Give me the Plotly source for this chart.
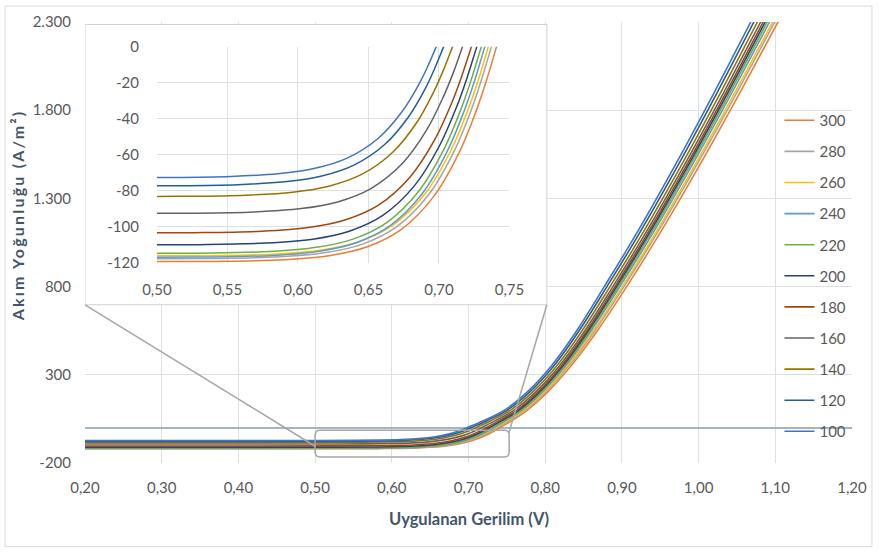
import plotly.graph_objects as go

# J-V curves (A/m^2 vs V) for each series, main chart + zoomed inset
series_labels = ["300", "280", "260", "240", "220", "200", "180", "160", "140", "120", "100"]

volt_100 = [0.20, 0.40, 0.5043, 0.5525, 0.5857, 0.6114, 0.6349, 0.6568, 0.6735, 0.6851, 0.6920, 0.6980,
            0.7194, 0.7470, 0.7760, 0.8080, 0.8410, 0.8770, 0.9189, 0.9709, 1.0203, 1.0680, 1.0914]
curr_100 = [-72.7, -72.7, -72.55, -71.97, -70.52, -67.61, -61.80, -50.89, -36.35, -21.81, -10.91, 0,
            40, 100, 200, 350, 550, 800, 1100, 1500, 1900, 2300, 2500]

volt_120 = [0.20, 0.40, 0.5091, 0.5573, 0.5905, 0.6162, 0.6397, 0.6617, 0.6786, 0.6903, 0.6972, 0.7033,
            0.7238, 0.7506, 0.7793, 0.8111, 0.8442, 0.8805, 0.9225, 0.9747, 1.0242, 1.0721, 1.0956]
curr_120 = [-77.3, -77.3, -77.15, -76.53, -74.98, -71.89, -65.71, -54.11, -38.65, -23.19, -11.60, 0,
            40, 100, 200, 350, 550, 800, 1100, 1500, 1900, 2300, 2500]

volt_140 = [0.20, 0.40, 0.5147, 0.5630, 0.5962, 0.6219, 0.6455, 0.6676, 0.6846, 0.6963, 0.7034, 0.7096,
            0.7292, 0.7550, 0.7832, 0.8149, 0.8481, 0.8845, 0.9267, 0.9790, 1.0287, 1.0767, 1.1003]
curr_140 = [-83.2, -83.2, -83.03, -82.37, -80.70, -77.38, -70.72, -58.24, -41.60, -24.96, -12.48, 0,
            40, 100, 200, 350, 550, 800, 1100, 1500, 1900, 2300, 2500]

volt_160 = [0.20, 0.40, 0.5208, 0.5691, 0.6023, 0.6281, 0.6517, 0.6740, 0.6912, 0.7031, 0.7104, 0.7167,
            0.7350, 0.7596, 0.7870, 0.8184, 0.8517, 0.8882, 0.9304, 0.9828, 1.0327, 1.0809, 1.1046]
curr_160 = [-92.6, -92.6, -92.41, -91.67, -89.82, -86.12, -78.71, -64.82, -46.30, -27.78, -13.89, 0,
            40, 100, 200, 350, 550, 800, 1100, 1500, 1900, 2300, 2500]

volt_180 = [0.20, 0.40, 0.5260, 0.5743, 0.6075, 0.6333, 0.6571, 0.6794, 0.6969, 0.7091, 0.7165, 0.7230,
            0.7400, 0.7634, 0.7901, 0.8211, 0.8544, 0.8910, 0.9332, 0.9858, 1.0358, 1.0842, 1.1079]
curr_180 = [-103.4, -103.4, -103.19, -102.37, -100.30, -96.16, -87.89, -72.38, -51.70, -31.02, -15.51, 0,
            40, 100, 200, 350, 550, 800, 1100, 1500, 1900, 2300, 2500]

volt_200 = [0.20, 0.40, 0.5290, 0.5773, 0.6106, 0.6364, 0.6602, 0.6827, 0.7003, 0.7127, 0.7202, 0.7268,
            0.7432, 0.7658, 0.7920, 0.8228, 0.8562, 0.8930, 0.9353, 0.9880, 1.0382, 1.0868, 1.1106]
curr_200 = [-110.1, -110.1, -109.88, -109.00, -106.80, -102.39, -93.59, -77.07, -55.05, -33.03, -16.52, 0,
            40, 100, 200, 350, 550, 800, 1100, 1500, 1900, 2300, 2500]

volt_220 = [0.20, 0.40, 0.5317, 0.5800, 0.6132, 0.6391, 0.6630, 0.6855, 0.7032, 0.7157, 0.7233, 0.7300,
            0.7460, 0.7679, 0.7938, 0.8246, 0.8581, 0.8952, 0.9376, 0.9904, 1.0408, 1.0895, 1.1135]
curr_220 = [-114.8, -114.8, -114.57, -113.65, -111.36, -106.76, -97.58, -80.36, -57.40, -34.44, -17.22, 0,
            40, 100, 200, 350, 550, 800, 1100, 1500, 1900, 2300, 2500]

volt_240 = [0.20, 0.40, 0.5339, 0.5822, 0.6154, 0.6413, 0.6652, 0.6878, 0.7056, 0.7181, 0.7258, 0.7325,
            0.7483, 0.7698, 0.7957, 0.8264, 0.8600, 0.8974, 0.9400, 0.9930, 1.0435, 1.0925, 1.1165]
curr_240 = [-117.0, -117.0, -116.77, -115.83, -113.49, -108.81, -99.45, -81.90, -58.50, -35.10, -17.55, 0,
            40, 100, 200, 350, 550, 800, 1100, 1500, 1900, 2300, 2500]

volt_260 = [0.20, 0.40, 0.5364, 0.5847, 0.6180, 0.6439, 0.6677, 0.6903, 0.7081, 0.7206, 0.7283, 0.7350,
            0.7509, 0.7721, 0.7980, 0.8288, 0.8628, 0.9006, 0.9433, 0.9965, 1.0472, 1.0964, 1.1205]
curr_260 = [-116.2, -116.2, -115.97, -115.04, -112.71, -108.07, -98.77, -81.34, -58.10, -34.86, -17.43, 0,
            40, 100, 200, 350, 550, 800, 1100, 1500, 1900, 2300, 2500]

volt_280 = [0.20, 0.40, 0.5384, 0.5867, 0.6199, 0.6458, 0.6697, 0.6924, 0.7102, 0.7228, 0.7304, 0.7372,
            0.7530, 0.7737, 0.7996, 0.8305, 0.8648, 0.9027, 0.9455, 0.9989, 1.0499, 1.0992, 1.1234]
curr_280 = [-117.8, -117.8, -117.56, -116.62, -114.27, -109.55, -100.13, -82.46, -58.90, -35.34, -17.67, 0,
            40, 100, 200, 350, 550, 800, 1100, 1500, 1900, 2300, 2500]

volt_300 = [0.20, 0.40, 0.5418, 0.5901, 0.6233, 0.6492, 0.6731, 0.6958, 0.7137, 0.7263, 0.7340, 0.7408,
            0.7565, 0.7768, 0.8026, 0.8335, 0.8680, 0.9062, 0.9492, 1.0028, 1.0539, 1.1035, 1.1278]
curr_300 = [-119.4, -119.4, -119.16, -118.21, -115.82, -111.04, -101.49, -83.58, -59.70, -35.82, -17.91, 0,
            40, 100, 200, 350, 550, 800, 1100, 1500, 1900, 2300, 2500]

# axis ticks
main_x_ticks = [0.20, 0.30, 0.40, 0.50, 0.60, 0.70, 0.80, 0.90, 1.00, 1.10, 1.20]
main_y_ticks = [-200, 300, 800, 1300, 1800, 2300]
inset_x_ticks = [0.50, 0.55, 0.60, 0.65, 0.70, 0.75]
inset_y_ticks = [-120, -100, -80, -60, -40, -20, 0]

series_data = {
    "300": (volt_300, curr_300), "280": (volt_280, curr_280), "260": (volt_260, curr_260),
    "240": (volt_240, curr_240), "220": (volt_220, curr_220), "200": (volt_200, curr_200),
    "180": (volt_180, curr_180), "160": (volt_160, curr_160), "140": (volt_140, curr_140),
    "120": (volt_120, curr_120), "100": (volt_100, curr_100),
}

colors = {
    "300": "#ED7D31", "280": "#A5A5A5", "260": "#FFC000", "240": "#5B9BD5",
    "220": "#70AD47", "200": "#264478", "180": "#9E480E", "160": "#636363",
    "140": "#997300", "120": "#255E91", "100": "#4472C4",
}

FONT = "Lato"
TICK_COLOR = "#595959"
TITLE_COLOR = "#44546A"
GRID = "#D9E0E8"
TICK_SIZE = 15


def fmt_thousands(v):
    return f"{v:,}".replace(",", ".")


fig = go.Figure()

for lab in series_labels:
    v, j = series_data[lab]
    fig.add_trace(go.Scatter(
        x=v, y=j, mode="lines", name=lab, legendgroup=lab,
        line=dict(color=colors[lab], width=1.6, shape="spline", smoothing=1.0),
        xaxis="x", yaxis="y", hoverinfo="skip"))

for lab in series_labels:
    v, j = series_data[lab]
    fig.add_trace(go.Scatter(
        x=v, y=j, mode="lines", name=lab, legendgroup=lab, showlegend=False,
        line=dict(color=colors[lab], width=1.5, shape="spline", smoothing=1.0),
        xaxis="x2", yaxis="y2", hoverinfo="skip"))

# inset frame in main-axis units
inset_frame = dict(x0=0.2, x1=0.8022, y0=697, y1=2286)
# highlighted region on the main axes
zoom_box = dict(x0=0.50, x1=0.753, y0=-166, y1=-14)
rx, ry = 0.0065, 28
zb = zoom_box
zoom_path = (f"M {zb['x0']+rx},{zb['y0']} L {zb['x1']-rx},{zb['y0']} "
             f"Q {zb['x1']},{zb['y0']} {zb['x1']},{zb['y0']+ry} "
             f"L {zb['x1']},{zb['y1']-ry} Q {zb['x1']},{zb['y1']} {zb['x1']-rx},{zb['y1']} "
             f"L {zb['x0']+rx},{zb['y1']} Q {zb['x0']},{zb['y1']} {zb['x0']},{zb['y1']-ry} "
             f"L {zb['x0']},{zb['y0']+ry} Q {zb['x0']},{zb['y0']} {zb['x0']+rx},{zb['y0']} Z")

shapes = [
    # outer chart border
    dict(type="rect", xref="paper", yref="paper", x0=-0.1042, x1=1.026, y0=-0.1896, y1=1.0361,
         line=dict(color="#D9D9D9", width=1), fillcolor="rgba(0,0,0,0)", layer="below"),
    # white panel behind the inset
    dict(type="rect", xref="x", yref="y", layer="between", fillcolor="white",
         line=dict(color="#D0D0D0", width=1), **inset_frame),
    # zoom region outline
    dict(type="path", xref="x", yref="y", path=zoom_path, layer="above",
         line=dict(color="#A6A6A6", width=1.5)),
    # connector lines
    dict(type="line", xref="x", yref="y", x0=inset_frame["x0"], y0=inset_frame["y0"],
         x1=zb["x0"], y1=(zb["y0"] + zb["y1"]) / 2 - 15, layer="above",
         line=dict(color="#A6A6A6", width=1.5)),
    dict(type="line", xref="x", yref="y", x0=inset_frame["x1"], y0=inset_frame["y0"],
         x1=zb["x1"] - 0.0005, y1=zb["y1"] - 17, layer="above",
         line=dict(color="#A6A6A6", width=1.5)),
]

axis_font = dict(family=FONT, size=TICK_SIZE, color=TICK_COLOR)

fig.update_layout(
    width=879, height=552,
    margin=dict(l=85, r=26, t=20, b=89),
    paper_bgcolor="white", plot_bgcolor="white",
    separators=",.",
    font=dict(family=FONT, size=TICK_SIZE, color=TICK_COLOR),
    showlegend=True,
    legend=dict(x=0.9054, y=0.814, xanchor="left", yanchor="top",
                bgcolor="rgba(0,0,0,0)", tracegroupgap=8.6,
                font=dict(family=FONT, size=TICK_SIZE, color=TICK_COLOR)),
    xaxis=dict(range=[0.2, 1.2], tickvals=main_x_ticks, tickformat=".2f",
               showgrid=True, gridcolor=GRID, gridwidth=1, zeroline=False,
               showline=False, ticks="", ticklabelstandoff=14, tickfont=axis_font,
               domain=[0, 1]),
    yaxis=dict(range=[-200, 2300], tickvals=main_y_ticks,
               ticktext=[fmt_thousands(v) for v in main_y_ticks],
               showgrid=True, gridcolor=GRID, gridwidth=1,
               zeroline=True, zerolinecolor="#A3B5CA", zerolinewidth=1.5,
               showline=False, ticks="", ticklabelstandoff=13, tickfont=axis_font,
               domain=[0, 1]),
    xaxis2=dict(range=[0.5, 0.75], tickvals=inset_x_ticks, tickformat=".2f",
                showgrid=True, gridcolor=GRID, gridwidth=1, zeroline=False,
                showline=False, ticks="", ticklabelstandoff=16, tickfont=axis_font,
                domain=[0.09375, 0.5534], anchor="y2"),
    yaxis2=dict(range=[-120, 0], tickvals=inset_y_ticks,
                ticktext=[str(v) for v in inset_y_ticks],
                showgrid=True, gridcolor=GRID, gridwidth=1, zeroline=False,
                showline=False, ticks="", ticklabelstandoff=17, tickfont=axis_font,
                domain=[0.4537, 0.9436], anchor="x2"),
    shapes=shapes,
    annotations=[
        dict(text="<b>Uygulanan Gerilim (V)</b>", xref="paper", yref="paper",
             x=0.5, y=-0.128, xanchor="center", yanchor="middle", showarrow=False,
             font=dict(family=FONT, size=16.5, color=TITLE_COLOR)),
        dict(text='<span style="letter-spacing:2.2px"><b>Akım Yoğunluğu (A/m²)</b></span>',
             xref="paper", yref="paper",
             x=-0.0885, y=0.562, xanchor="center", yanchor="middle", showarrow=False,
             textangle=-90, font=dict(family=FONT, size=16, color=TITLE_COLOR)),
    ],
)

fig.write_html("out.html")
